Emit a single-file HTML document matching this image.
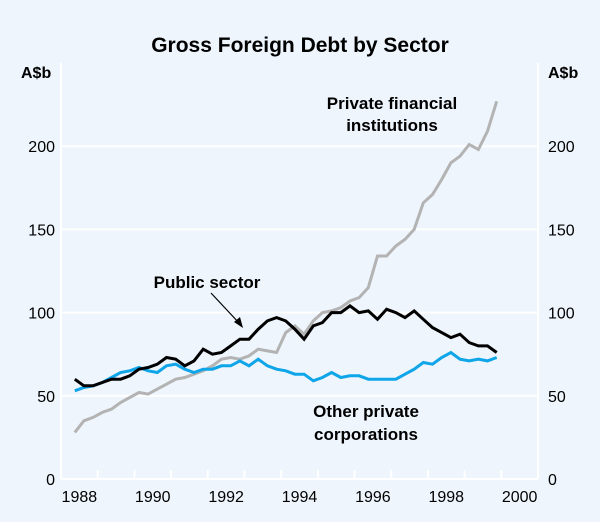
<!DOCTYPE html>
<html><head><meta charset="utf-8"><style>
body{margin:0;background:#eef5fc;}
svg{display:block;font-family:"Liberation Sans",Arial,sans-serif;}
</style></head><body>
<svg id="chart" width="600" height="522">
<rect x="0" y="0" width="600" height="522" fill="#eef5fc"/>
<text x="300" y="52" text-anchor="middle" font-size="21" font-weight="bold">Gross Foreign Debt by Sector</text>
<text x="21" y="78" font-size="16" font-weight="bold">A$b</text>
<text x="548" y="78" font-size="16" font-weight="bold">A$b</text>
<g id="grid"></g><g id="series"></g><g id="labels"></g>
<text x="207" y="288" text-anchor="middle" font-size="17" font-weight="bold">Public sector</text>
<line x1="211" y1="293" x2="240" y2="324" stroke="#000" stroke-width="1.2"/>
<polygon points="243,328 234,322 240,317" fill="#000"/>
<text x="392" y="109" text-anchor="middle" font-size="17" font-weight="bold">Private financial</text>
<text x="392" y="131" text-anchor="middle" font-size="17" font-weight="bold">institutions</text>
<text x="366" y="417" text-anchor="middle" font-size="17" font-weight="bold">Other private</text>
<text x="366" y="440" text-anchor="middle" font-size="17" font-weight="bold">corporations</text>
</svg>
<script>
const startYear = 1988.375;
const yTicks = [0, 50, 100, 150, 200];
const xLabels = [1988, 1990, 1992, 1994, 1996, 1998, 2000];
const privateFinancial = [28,35,37,40,42,46,49,52,51,54,57,60,61,63,65,68,72,73,72,74,78,77,76,88,92,87,95,100,101,103,107,109,115,134,134,140,144,150,166,171,180,190,194,201,198,209,227];
const publicSector = [60,56,56,58,60,60,62,66,67,69,73,72,68,71,78,75,76,80,84,84,90,95,97,95,90,84,92,94,100,100,104,100,101,96,102,100,97,101,96,91,88,85,87,82,80,80,76];
const otherPrivate = [53,55,56,58,61,64,65,67,65,64,68,69,66,64,66,66,68,68,71,68,72,68,66,65,63,63,59,61,64,61,62,62,60,60,60,60,63,66,70,69,73,76,72,71,72,71,73];

const NS = "http://www.w3.org/2000/svg";
const L = 61, R = 538, T = 63, B = 479;
function xs(yr){ return L + (yr - 1988) * (R - L) / 13; }
function ys(v){ return B - v * (B - T) / 250; }
function mk(tag, attrs, parent){ const e = document.createElementNS(NS, tag); for (const k in attrs) e.setAttribute(k, attrs[k]); parent.appendChild(e); return e; }

const grid = document.getElementById('grid');
yTicks.forEach(v => {
  const ln = mk('line', {x1:L, x2:R, y1:ys(v), y2:ys(v), stroke:'#fff', 'stroke-width':2}, grid);
  
  
  const tl = mk('text', {x:55, y:ys(v)+6, 'text-anchor':'end', 'font-size':16}, grid);
  tl.textContent = v;
  
  
  const tr = mk('text', {x:548, y:ys(v)+6, 'text-anchor':'start', 'font-size':16}, grid);
  tr.textContent = v;
  
  
});
[L, R].forEach((x, i) => {
  const ln = mk('line', {x1:x, x2:x, y1:T, y2:B, stroke:'#fff', 'stroke-width':2}, grid);
  
  
});
for (let yr = 1989; yr <= 2000; yr++) {
  const t = mk('line', {x1:xs(yr), x2:xs(yr), y1:B, y2:B-9, stroke:'#fff', 'stroke-width':2}, grid);
  
  
}
xLabels.forEach(yr => {
  const t = mk('text', {x:xs(yr + 0.5), y:502, 'text-anchor':'middle', 'font-size':16}, grid);
  t.textContent = yr;
  
  
});

const series = document.getElementById('series');
function draw(arr, color, name){
  const pts = arr.map((v, i) => xs(startYear + i * 0.25).toFixed(1) + ',' + ys(v).toFixed(1)).join(' ');
  const p = mk('polyline', {points:pts, fill:'none', stroke:color, 'stroke-width':3, 'stroke-linejoin':'miter'}, series);
  
  
}
draw(privateFinancial, '#b3b3b3', 'private-financial-line');
draw(otherPrivate, '#0ea5e9', 'other-private-line');
draw(publicSector, '#000000', 'public-sector-line');
</script>
</body></html>
